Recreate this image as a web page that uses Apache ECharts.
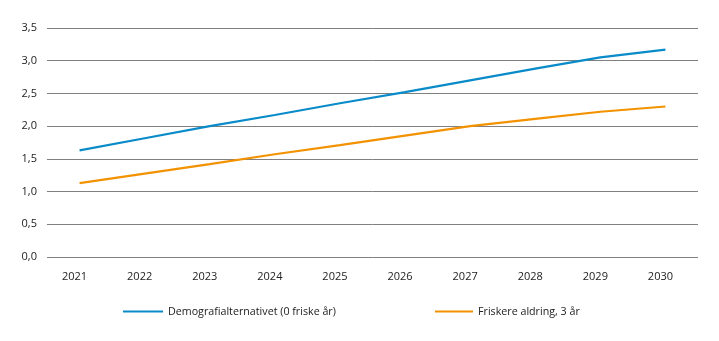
<!DOCTYPE html>
<html>
<head>
<meta charset="utf-8">
<script src="https://cdn.jsdelivr.net/npm/echarts@6/dist/echarts.min.js"></script>
<style>html,body{margin:0;padding:0;background:#fff}#c{width:719px;height:341px}</style>
</head>
<body>
<div id="c"></div>
<script>
var categories = ['2021','2022','2023','2024','2025','2026','2027','2028','2029','2030'];
var demografi = [1.63, 1.815, 2.00, 2.17, 2.35, 2.52, 2.70, 2.88, 3.05, 3.17];
var friskere = [1.13, 1.275, 1.42, 1.57, 1.71, 1.855, 2.00, 2.11, 2.22, 2.30];
var seriesNames = ['Demografialternativet (0 friske år)', 'Friskere aldring, 3 år'];
var colors = ['#0a8bc9', '#f39200'];
var font = '"Open Sans", "Noto Sans", sans-serif';

var chart = echarts.init(document.getElementById('c'), null, {renderer: 'canvas'});
chart.setOption({
  animation: false,
  backgroundColor: '#fff',
  grid: {left: 47, right: 21, top: 28, bottom: 84, containLabel: false},
  legend: [
    {data: [seriesNames[0]], left: 123, top: 306, padding: 0, itemWidth: 40, itemHeight: 14, itemGap: 7,
     textStyle: {fontSize: 10.7, color: '#222', fontFamily: font}, icon: 'path://M0,0H40V2H0Z'},
    {data: [seriesNames[1]], left: 435, top: 306, padding: 0, itemWidth: 38, itemHeight: 14, itemGap: 7,
     textStyle: {fontSize: 10.7, color: '#222', fontFamily: font}, icon: 'path://M0,0H38V2H0Z'}
  ],
  xAxis: {
    type: 'category', data: categories, boundaryGap: true,
    axisLine: {show: false}, axisTick: {show: false},
    axisLabel: {color: '#222', fontSize: 11, fontFamily: font, margin: 14, padding: [0, 10, 0, 0]}
  },
  yAxis: {
    type: 'value', min: 0, max: 3.5, interval: 0.5,
    axisLine: {show: false}, axisTick: {show: false},
    axisLabel: {color: '#222', fontSize: 11, fontFamily: font, margin: 10,
      formatter: function (v) { return v.toFixed(1).replace('.', ','); }},
    splitLine: {lineStyle: {color: '#808080', width: 1}}
  },
  series: [
    {name: seriesNames[0], type: 'line', data: demografi, symbol: 'none', color: colors[0],
     lineStyle: {width: 2.2, color: colors[0]}},
    {name: seriesNames[1], type: 'line', data: friskere, symbol: 'none', color: colors[1],
     lineStyle: {width: 2.2, color: colors[1]}}
  ]
});
</script>
</body>
</html>
